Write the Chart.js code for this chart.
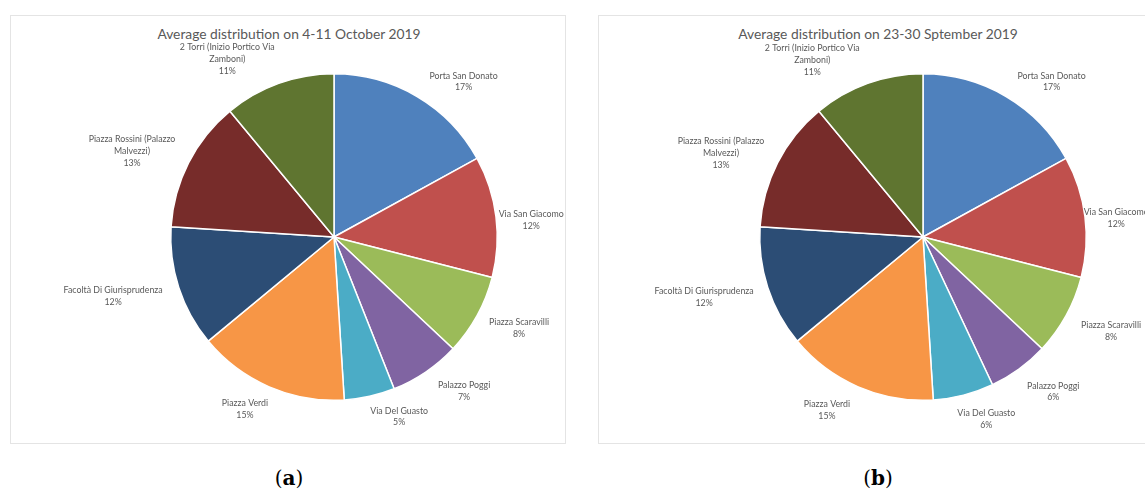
<!DOCTYPE html>
<html>
<head>
<meta charset="utf-8">
<script src="https://cdn.jsdelivr.net/npm/chart.js@4.4.1/dist/chart.umd.min.js"></script>
<style>
  html, body { margin:0; padding:0; background:#fff; overflow:hidden; width:1145px; height:493px; }
  .frame { position:absolute; border:1px solid #e4e4e4; box-sizing:border-box; }
  .title { position:absolute; font-family:Lato, "Open Sans", sans-serif; font-size:13.8px; color:#595959; white-space:nowrap; transform:translateX(-50%); }
  .cap { position:absolute; font-family:"DejaVu Serif","Liberation Serif",serif; font-size:20px; color:#000; transform:translateX(-50%); }
  canvas { position:absolute; }
</style>
</head>
<body>
<div class="frame" style="left:10px;top:15px;width:556px;height:429px;"></div>
<div class="frame" style="left:598px;top:15px;width:600px;height:429px;"></div>
<div class="title" id="t1" style="left:289px;top:25px;"></div>
<div class="title" id="t2" style="left:878px;top:25px;"></div>
<div class="cap" style="left:289px;top:466px;">(<b>a</b>)</div>
<div class="cap" style="left:878px;top:466px;">(<b>b</b>)</div>
<div style="position:absolute;left:10px;top:15px;width:556px;height:429px;"><canvas id="c1" width="556" height="429"></canvas></div>
<div style="position:absolute;left:598px;top:15px;width:600px;height:429px;"><canvas id="c2" width="600" height="429"></canvas></div>
<script>
const categories = [
  "Porta San Donato",
  "Via San Giacomo",
  "Piazza Scaravilli",
  "Palazzo Poggi",
  "Via Del Guasto",
  "Piazza Verdi",
  "Facoltà Di Giurisprudenza",
  "Piazza Rossini (Palazzo\nMalvezzi)",
  "2 Torri (Inizio Portico Via\nZamboni)"
];
const titleA = "Average distribution on 4-11 October 2019";
const titleB = "Average distribution on 23-30 Sptember 2019";
const valuesA = [17, 12, 8, 7, 5, 15, 12, 13, 11];
const valuesB = [17, 12, 8, 6, 6, 15, 12, 13, 11];
const colors = ["#4F81BD","#C0504D","#9BBB59","#8064A2","#4BACC6","#F79646","#2C4D75","#772C2A","#5F7530"];

// style: small nudges of the data-label boxes (px), like Excel's label placement
const labelNudgeA = [[24,4],[-7,6],[7,2],[18,1],[21,-1],[-11,2],[-9,2],[-9,1],[-32,2]];
const labelNudgeB = [[23,4],[-11,4],[10,5],[13,5],[13,3],[-18,3],[-7,3],[-9,3],[-36,3]];

document.getElementById('t1').textContent = titleA;
document.getElementById('t2').textContent = titleB;

const outLabels = {
  id: 'outLabels',
  afterDatasetsDraw(chart, args, opts) {
    const ctx = chart.ctx;
    const meta = chart.getDatasetMeta(0);
    const data = chart.data.datasets[0].data;
    const total = data.reduce((a,b)=>a+b,0);
    const nudge = opts.nudge || [];
    ctx.save();
    ctx.font = '8.8px Lato, "Open Sans", sans-serif';
    ctx.fillStyle = '#595959';
    ctx.textAlign = 'center';
    ctx.textBaseline = 'middle';
    const lh = 11.8;
    meta.data.forEach((arc, i) => {
      const p = arc.getProps(['x','y','startAngle','endAngle','outerRadius'], true);
      const a = (p.startAngle + p.endAngle) / 2;
      const dx = Math.cos(a), dy = Math.sin(a);
      const lines = chart.data.labels[i].split('\n');
      lines.push(Math.round(data[i] / total * 100) + '%');
      const w = Math.max(...lines.map(l => ctx.measureText(l).width));
      const h = lines.length * lh;
      const gap = 10;
      const px = p.x + (p.outerRadius + gap) * dx;
      const py = p.y + (p.outerRadius + gap) * dy;
      const n = nudge[i] || [0,0];
      const cx = px + w / 2 * dx + n[0];
      const cy = py + h / 2 * dy + n[1];
      lines.forEach((l, k) => {
        ctx.fillText(l, cx, cy - h / 2 + lh / 2 + k * lh);
      });
    });
    ctx.restore();
  }
};

function makePie(id, values, pad, nudge) {
  return new Chart(document.getElementById(id), {
    type: 'pie',
    data: {
      labels: categories,
      datasets: [{ data: values, backgroundColor: colors, borderColor: '#ffffff', borderWidth: 1.5 }]
    },
    options: {
      responsive: false,
      animation: false,
      layout: { padding: pad },
      plugins: { legend: { display: false }, tooltip: { enabled: false }, title: { display: false }, outLabels: { nudge: nudge } }
    },
    plugins: [outLabels]
  });
}
makePie('c1', valuesA, { left: 160, right: 556 - (324 + 164), top: 58, bottom: 429 - (222 + 164) }, labelNudgeA);
makePie('c2', valuesB, { left: 161, right: 600 - (325 + 164), top: 58, bottom: 429 - (222 + 164) }, labelNudgeB);
</script>
</body>
</html>
